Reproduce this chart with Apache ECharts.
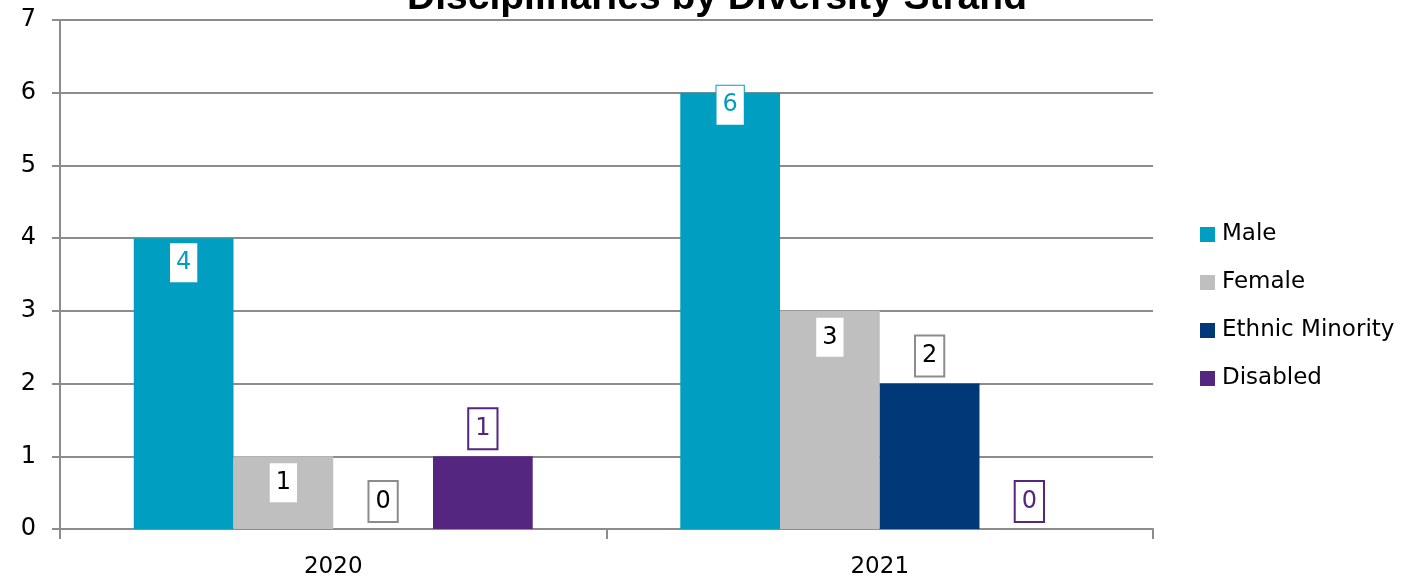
<!DOCTYPE html>
<html>
<head>
<meta charset="utf-8">
<script src="https://cdn.jsdelivr.net/npm/echarts@6/dist/echarts.min.js"></script>
<style>
  html, body { margin: 0; padding: 0; background: #fff; }
  #chart { width: 1405px; height: 581px; }
</style>
</head>
<body>
<div id="chart"></div>
<script>
// Disciplinary cases per year, split by diversity strand
const years = ['2020', '2021'];
const male = [4, 6];
const female = [1, 3];
const ethnicMinority = [0, 2];
const disabled = [1, 0];
const yTicks = [0, 1, 2, 3, 4, 5, 6, 7];

const FONT = 'DejaVu Sans';
const COLORS = {
  male: '#009FC2',
  female: '#BFBFBF',
  ethnic: '#003878',
  disabled: '#55267F'
};

function boxLabel(position, textColor, borderColor, distance) {
  return {
    show: true,
    position: position,
    distance: distance,
    fontFamily: FONT,
    fontSize: 24,
    lineHeight: 27,
    color: textColor,
    backgroundColor: '#fff',
    borderColor: borderColor || '#fff',
    borderWidth: borderColor ? 2 : 0,
    padding: [6, 6, 6, 6]
  };
}

// the tallest bar's label sits a little higher so it straddles the bar top
const maleData = male.map(function (v) {
  return v === Math.max.apply(null, male)
    ? { value: v, label: { offset: [0, -12] } }
    : v;
});

const chart = echarts.init(document.getElementById('chart'), null, { renderer: 'canvas' });

chart.setOption({
  animation: false,
  backgroundColor: '#fff',
  title: {
    text: 'Disciplinaries by Diversity Strand',
    left: 712,
    textAlign: 'center',
    top: -26,
    textStyle: { fontFamily: 'Liberation Sans', fontWeight: 'bold', fontSize: 39, color: '#000' }
  },
  legend: {
    orient: 'vertical',
    left: 1195,
    top: 218,
    itemWidth: 15,
    itemHeight: 15,
    itemGap: 25,
    icon: 'rect',
    textStyle: { fontFamily: FONT, fontSize: 23, color: '#000', padding: [0, 0, 0, 2] },
    data: ['Male', 'Female', 'Ethnic Minority', 'Disabled']
  },
  grid: { left: 60, right: 252, top: 20, bottom: 52, containLabel: false },
  xAxis: {
    type: 'category',
    data: years,
    axisLine: { lineStyle: { color: '#8C8C8C', width: 2 } },
    axisTick: { show: true, length: 10, lineStyle: { color: '#8C8C8C', width: 2 } },
    axisLabel: { fontFamily: FONT, fontSize: 23, color: '#000', margin: 27 }
  },
  yAxis: {
    type: 'value',
    min: yTicks[0],
    max: yTicks[yTicks.length - 1],
    interval: 1,
    axisLine: { show: true, lineStyle: { color: '#8C8C8C', width: 2 } },
    axisTick: { show: true, length: 8, lineStyle: { color: '#8C8C8C', width: 2 } },
    axisLabel: { fontFamily: FONT, fontSize: 24, color: '#000', margin: 24 },
    splitLine: { show: true, lineStyle: { color: '#8C8C8C', width: 2 } }
  },
  series: [
    {
      name: 'Male', type: 'bar', data: maleData,
      barGap: '0%', barCategoryGap: '27%',
      itemStyle: { color: COLORS.male },
      label: Object.assign(boxLabel('insideTop', COLORS.male, COLORS.male, 5), { borderWidth: 1 })
    },
    {
      name: 'Female', type: 'bar', data: female,
      itemStyle: { color: COLORS.female },
      label: boxLabel('insideTop', '#000', null, 7)
    },
    {
      name: 'Ethnic Minority', type: 'bar', data: ethnicMinority,
      itemStyle: { color: COLORS.ethnic },
      label: boxLabel('top', '#000', '#8C8C8C', 8)
    },
    {
      name: 'Disabled', type: 'bar', data: disabled,
      itemStyle: { color: COLORS.disabled },
      label: boxLabel('top', COLORS.disabled, COLORS.disabled, 8)
    }
  ]
});
</script>
</body>
</html>
